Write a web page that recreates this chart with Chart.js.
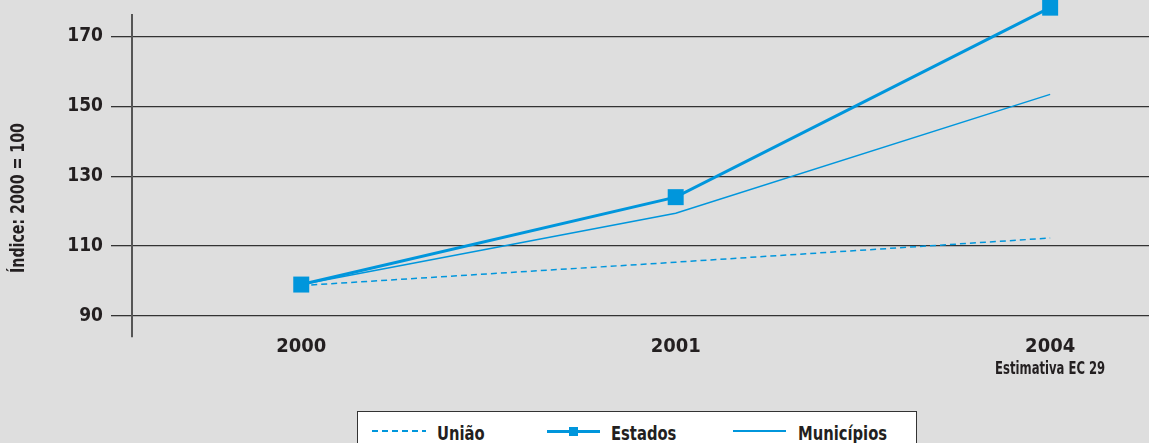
<!DOCTYPE html>
<html>
<head>
<meta charset="utf-8">
<script src="https://cdn.jsdelivr.net/npm/chart.js@4.4.1/dist/chart.umd.min.js"></script>
<style>
  html, body { margin: 0; padding: 0; background: #dedede; }
  #wrap { position: relative; width: 1149px; height: 443px; overflow: hidden; }
  #legend {
    position: absolute; left: 357px; top: 411px; width: 560px; height: 44px;
    background: #fff; border: 1.5px solid #333; box-sizing: border-box;
    font: bold 20px "DejaVu Sans Condensed", "DejaVu Sans", sans-serif; color: #231f20;
  }
  #legend .it { position: absolute; top: 9px; white-space: nowrap; transform: scaleX(0.82); transform-origin: left center; }
  #legend .ln { position: absolute; top: 18px; }
  #legend .mk { position: absolute; top: 15px; width: 9px; height: 9px; background: #0096dc; }
</style>
</head>
<body>
<div id="wrap">
  <canvas id="c" width="1149" height="443"></canvas>
  <div id="legend"></div>
</div>
<script>
const FONT = "'DejaVu Sans Condensed', 'DejaVu Sans', sans-serif";
const BLUE = "#0096dc";

// ─── Data ─────────────────────────────────────────────────────────────────────
const years      = ["2000", "2001", "2004"];
const uniao      = [98.7, 105.4, 112.3];
const estados    = [99, 124, 178.2];
const municipios = [99, 119.4, 153.4];
const yTicks     = [90, 110, 130, 150, 170];
const yTitle     = "Índice: 2000 = 100";
const xNote      = "Estimativa EC 29";
const legendLabels = ["União", "Estados", "Municípios"];

const pts = arr => arr.map((v, i) => ({ x: i, y: v }));

// y title + note under 2004, condensed horizontally to mimic the narrow face
const extraText = {
  id: "extraText",
  afterDraw(chart) {
    const { ctx, scales } = chart;
    ctx.save();
    ctx.fillStyle = "#231f20";
    ctx.textAlign = "center";
    ctx.textBaseline = "middle";
    ctx.save();
    ctx.translate(scales.x.getPixelForValue(2), 370);
    ctx.scale(0.76, 1);
    ctx.font = `bold 17px ${FONT}`;
    ctx.fillText(xNote, 0, 0);
    ctx.restore();
    ctx.translate(19, 198);
    ctx.rotate(-Math.PI / 2);
    ctx.scale(0.83, 1);
    ctx.font = `bold 19px ${FONT}`;
    ctx.fillText(yTitle, 0, 0);
    ctx.restore();
  },
};

new Chart(document.getElementById("c"), {
  type: "line",
  data: {
    datasets: [
      { label: legendLabels[0], data: pts(uniao), borderColor: BLUE, borderWidth: 1.5, borderDash: [6, 4], pointRadius: 0, tension: 0, clip: false },
      { label: legendLabels[1], data: pts(estados), borderColor: BLUE, backgroundColor: BLUE, borderWidth: 3, pointStyle: "rect", pointRadius: 11.3, pointBorderWidth: 0, tension: 0, clip: false },
      { label: legendLabels[2], data: pts(municipios), borderColor: BLUE, borderWidth: 1.5, pointRadius: 0, tension: 0, clip: false },
    ],
  },
  options: {
    responsive: false, animation: false,
    layout: { autoPadding: false, padding: { top: 15, right: 0, left: 0, bottom: 0 } },
    plugins: { legend: { display: false }, tooltip: { enabled: false } },
    scales: {
      x: {
        type: "linear", min: -0.452, max: 2.264,
        afterBuildTicks: s => { s.ticks = years.map((_, i) => ({ value: i })); },
        afterFit: s => { s.height = 106; s.paddingLeft = 0; s.paddingRight = 0; },
        grid: { display: false, drawTicks: false, tickLength: 0 }, border: { display: false },
        ticks: { callback: v => years[v], color: "#231f20", padding: -2, font: { family: FONT, size: 20, weight: "bold" }, maxRotation: 0 },
      },
      y: {
        min: 84, max: 176.1,
        afterBuildTicks: s => { s.ticks = yTicks.map(v => ({ value: v })); },
        afterFit: s => { s.width = 132; s.paddingTop = 0; s.paddingBottom = 0; },
        grid: { color: "#333", lineWidth: 1.3, tickLength: 21 },
        border: { color: "#555", width: 2 },
        ticks: { color: "#231f20", padding: 8, font: { family: FONT, size: 19, weight: "bold" } },
      },
    },
  },
  plugins: [extraText],
});

// ─── Legend (HTML) ────────────────────────────────────────────────────────────
const dash = `repeating-linear-gradient(90deg, ${BLUE} 0 6px, transparent 6px 10px)`;
const lg = document.getElementById("legend");
lg.innerHTML = `
  <div class="ln" style="left:14px;width:54px;height:1.5px;background:${dash}"></div>
  <div class="it" style="left:79px">${legendLabels[0]}</div>
  <div class="ln" style="left:189px;width:53px;height:3px;top:17.5px;background:${BLUE}"></div>
  <div class="mk" style="left:211px"></div>
  <div class="it" style="left:253px">${legendLabels[1]}</div>
  <div class="ln" style="left:375px;width:53px;height:1.5px;background:${BLUE}"></div>
  <div class="it" style="left:440px">${legendLabels[2]}</div>`;
</script>
</body>
</html>
